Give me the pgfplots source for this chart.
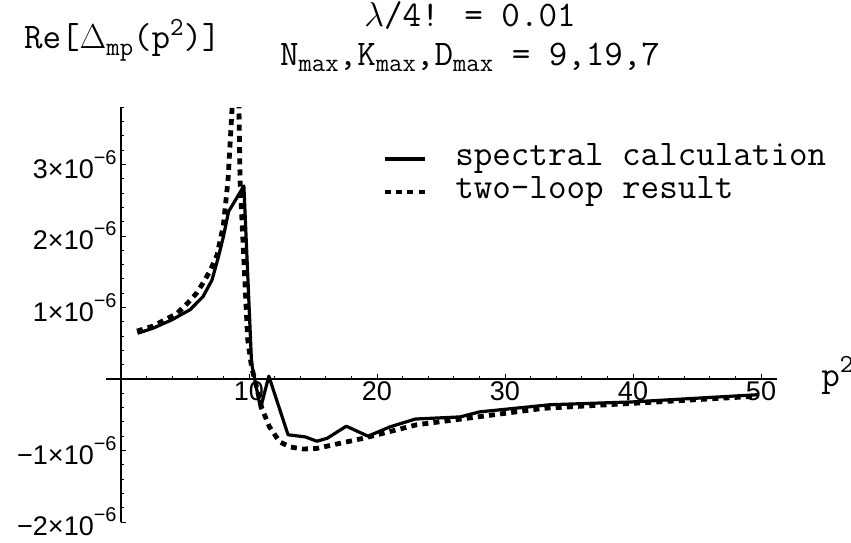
\documentclass[border=0pt]{standalone}
\usepackage{pgfplots}
\pgfplotsset{compat=1.18}
\usepackage{fontspec}
\newfontfamily\ticksf{Liberation Sans}
\newcommand\ylab[1]{#1×10\raisebox{1.0ex}{\fontsize{10}{11}\selectfont −6}}
\newcommand\bigtt{\ttfamily\fontsize{18}{20}\selectfont}
\newcommand\sub[1]{\raisebox{-0.45ex}{\ttfamily\fontsize{13}{14}\selectfont #1}}
\newcommand\sups[1]{\raisebox{0.85ex}{\ttfamily\fontsize{13}{14}\selectfont #1}}
\begin{document}
\begin{tikzpicture}
\useasboundingbox (-60.5pt,-81.5pt) rectangle (365pt,189.5pt);
\begin{axis}[
  at={(0pt,0pt)}, anchor=origin,
  x=6.4pt, y=35.75pt,
  xmin=-1.2, xmax=51.25, ymin=-2, ymax=3.8,
  axis lines=middle,
  axis line style={-, line width=0.6pt},
  xtick={10,20,30,40,50}, xticklabels={10,20,30,40,50},
  minor xtick={2,4,...,50},
  ytick={-2,-1,1,2,3},
  yticklabels={\ylab{−2},\ylab{−1},\ylab{1},\ylab{2},\ylab{3}},
  minor ytick={-1.8,-1.6,...,3.8},
  tick align=inside,
  major tick length=2.4pt, minor tick length=1.3pt,
  tick style={line width=0.5pt, black},
  xticklabel style={font=\ticksf\fontsize{13.5}{16}\selectfont, inner sep=1pt},
  yticklabel style={font=\ticksf\fontsize{13.5}{16}\selectfont, inner sep=2pt},
  legend style={at={(axis cs:20.4,3.25)}, anchor=north west, draw=none, fill=none,
    font=\bigtt, row sep=4.5pt, inner sep=0pt,
    nodes={inner sep=0pt, text height=9pt, text depth=3pt}},
  legend cell align=left,
  legend image code/.code={\draw[#1] (0pt,0pt) -- (20pt,0pt); \path (34pt,0pt);},
]
\addplot[black, line width=1.6pt, line join=round] coordinates {
(1.3,0.64) (2.5,0.71) (4.0,0.83) (5.4,0.97) (6.4,1.15) (7.1,1.38) (7.6,1.70)
(8.0,1.99) (8.4,2.34) (9.6,2.70) (10.2,0.22) (10.9,-0.41) (11.55,0.04)
(13.05,-0.78) (14.4,-0.81) (15.3,-0.87) (16.1,-0.83) (17.6,-0.66) (19.3,-0.80)
(21,-0.67) (23,-0.56) (26.5,-0.53) (28,-0.46) (33.5,-0.36) (40,-0.32) (49.7,-0.22)
};
\addlegendentry{spectral calculation}
\addplot[black, line width=2.4pt, dash pattern=on 3pt off 2.6pt] coordinates {
(1.25,0.67) (2.5,0.74) (4.4,0.92) (5.2,1.06) (5.9,1.2) (6.4,1.34) (6.95,1.51)
(7.5,1.73) (8.0,2.15) (8.36,2.78) (8.67,3.76) (8.8,4.5) (8.9,8)
(9.1,8) (9.22,3.76) (9.3,2.78) (9.5,2.04) (9.7,1.29) (9.9,0.55) (10.2,0.17)
(11.0,-0.41) (11.6,-0.67) (12.4,-0.88) (13.2,-0.95) (14.2,-0.98) (15.3,-0.97)
(17.1,-0.9) (18.9,-0.83) (23.1,-0.64) (27,-0.55) (33,-0.41) (40,-0.34) (49.7,-0.24)
};
\addlegendentry{two-loop result}
\end{axis}
\node[anchor=base west, font=\bigtt] at (-52pt,165pt) {Re[$\Delta$\sub{mp}(p\sups{2})]};
\node[anchor=base, font=\bigtt] at (174.5pt,176pt) {$\lambda$/4! = 0.01};
\node[anchor=base, font=\bigtt] at (174.5pt,157pt) {N\sub{max},K\sub{max},D\sub{max} = 9,19,7};
\node[anchor=base west, font=\bigtt, inner sep=0pt] at (350pt,-3.5pt) {p\sups{2}};
\end{tikzpicture}
\end{document}
